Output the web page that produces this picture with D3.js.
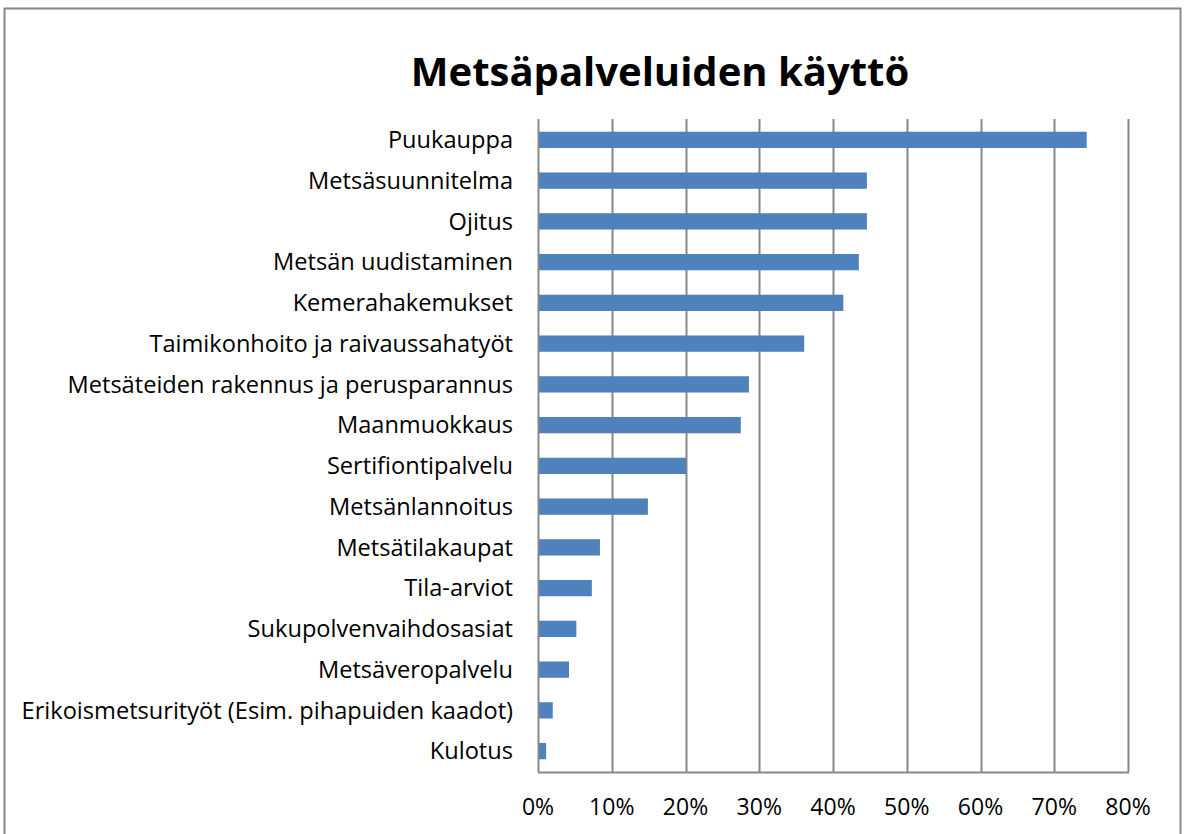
<!doctype html>
<html>
<head>
<script src="https://d3js.org/d3.v7.min.js"></script>
<style>
body { margin: 0; background: #fff; }
.axis text { font: 23px "Open Sans", sans-serif; fill: #000; }
.axis text.lab { font-size: 23.6px; }
</style>
</head>
<body>
<svg width="1186" height="834"></svg>
<script>

var categories = ["Puukauppa", "Metsäsuunnitelma", "Ojitus", "Metsän uudistaminen", "Kemerahakemukset",
  "Taimikonhoito ja raivaussahatyöt", "Metsäteiden rakennus ja perusparannus", "Maanmuokkaus",
  "Sertifiontipalvelu", "Metsänlannoitus", "Metsätilakaupat", "Tila-arviot", "Sukupolvenvaihdosasiat",
  "Metsäveropalvelu", "Erikoismetsurityöt (Esim. pihapuiden kaadot)", "Kulotus"];
var values = [74.4, 44.6, 44.6, 43.5, 41.4, 36.1, 28.6, 27.5, 20.1, 14.9, 8.4, 7.3, 5.2, 4.2, 2.0, 1.1];
var ticks = [0, 10, 20, 30, 40, 50, 60, 70, 80];

var svg = d3.select("svg");

// outer chart frame
svg.append("rect")
    .attr("x", 4.5).attr("y", 8.5)
    .attr("width", 1176).attr("height", 840)
    .attr("fill", "none").attr("stroke", "#888").attr("stroke-width", 2);

svg.append("text")
    .attr("x", 660).attr("y", 86)
    .attr("text-anchor", "middle")
    .style("font", "bold 40px 'Open Sans', sans-serif")
    .text("Metsäpalveluiden käyttö");

var x = d3.scaleLinear().domain([0, 80]).range([538, 1128]),
    y = d3.scaleBand().domain(categories).range([119.5, 771.5]).paddingInner(0.6).paddingOuter(0.3);

// gridlines
svg.append("g").selectAll("line")
  .data(ticks.slice(1))
  .enter().append("line")
    .attr("x1", function(d) { return Math.round(x(d)) + 0.5; })
    .attr("x2", function(d) { return Math.round(x(d)) + 0.5; })
    .attr("y1", 119).attr("y2", 772)
    .attr("stroke", "#888").attr("stroke-width", 2);

svg.append("g").selectAll("rect")
  .data(values)
  .enter().append("rect")
    .attr("x", x(0))
    .attr("y", function(d, i) { return y(categories[i]); })
    .attr("width", function(d) { return x(d) - x(0); })
    .attr("height", y.bandwidth())
    .attr("fill", "#4f81bd");

// left axis
var ga = svg.append("g").attr("class", "axis");
ga.append("line")
    .attr("x1", 538.5).attr("x2", 538.5).attr("y1", 119).attr("y2", 772)
    .attr("stroke", "#888").attr("stroke-width", 2);
ga.selectAll(".lab")
  .data(categories)
  .enter().append("text")
    .attr("class", "lab")
    .attr("x", 513)
    .attr("y", function(d) { return y(d) + y.bandwidth() / 2; })
    .attr("dy", "0.35em")
    .attr("text-anchor", "end")
    .text(function(d) { return d; });

// bottom axis
var gb = svg.append("g").attr("class", "axis");
gb.append("line")
    .attr("x1", 538).attr("x2", 1129).attr("y1", 772.5).attr("y2", 772.5)
    .attr("stroke", "#888").attr("stroke-width", 2);
gb.selectAll(".tick")
  .data(ticks)
  .enter().append("text")
    .attr("x", function(d) { return x(d); })
    .attr("y", 807)
    .attr("dy", "0.35em")
    .attr("text-anchor", "middle")
    .text(function(d) { return d + "%"; });

</script>
</body>
</html>
